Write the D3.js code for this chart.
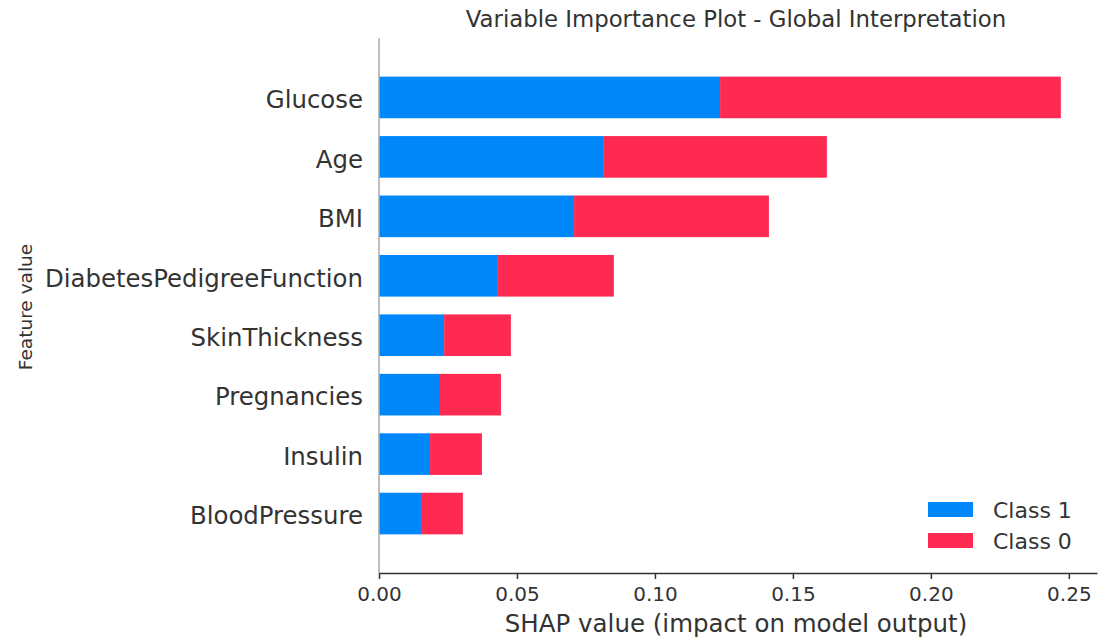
<!DOCTYPE html>
<html>
<head>
<meta charset="utf-8">
<script src="https://cdn.jsdelivr.net/npm/d3@7"></script>
<style>
  body { margin: 0; background: #fff; }
  text { font-family: "DejaVu Sans", sans-serif; fill: #333; }
  .x.axis path, .x.axis line { stroke: #333; }
  .x.axis text { font-size: 20px; fill: #333; }
</style>
</head>
<body>
<div id="chart"></div>
<script>
// features, top to bottom
var features = ["Glucose", "Age", "BMI", "DiabetesPedigreeFunction", "SkinThickness", "Pregnancies", "Insulin", "BloodPressure"];
// mean |SHAP| per class
var class1 = [0.1236, 0.0815, 0.0707, 0.0428, 0.0236, 0.0221, 0.0185, 0.0152];
var class0 = [0.1235, 0.0808, 0.0706, 0.0423, 0.0242, 0.0221, 0.0188, 0.0152];
var classNames = ["Class 1", "Class 0"];
var classColors = ["#0088fa", "#fe2a52"];
var xTicks = [0, 0.05, 0.10, 0.15, 0.20, 0.25];

var width = 1109, height = 638;
var margin = { top: 38, right: 12, bottom: 65, left: 379 };
var innerW = width - margin.left - margin.right,
    innerH = height - margin.top - margin.bottom;

var svg = d3.select("#chart").append("svg")
    .attr("width", width)
    .attr("height", height);

var g = svg.append("g")
    .attr("transform", "translate(" + margin.left + "," + margin.top + ")");

var xScale = d3.scaleLinear()
    .domain([0, 0.2602])
    .range([0, innerW]);

// shap style: y from -1 to n, first feature at top
var n = features.length;
var yScale = d3.scaleLinear()
    .domain([-1, n])
    .range([innerH, 0]);
var barH = yScale(0) - yScale(0.7);

var rows = features.map(function(f, i) {
    return { name: f, pos: n - 1 - i, c1: class1[i], c0: class0[i] };
});

// bars, class 1 first then class 0 stacked on top
g.selectAll(".bar1")
    .data(rows)
  .enter().append("rect")
    .attr("class", "bar1")
    .attr("x", xScale(0))
    .attr("y", function(d) { return yScale(d.pos) - barH / 2; })
    .attr("width", function(d) { return xScale(d.c1) - xScale(0); })
    .attr("height", barH)
    .attr("fill", classColors[0]);

g.selectAll(".bar0")
    .data(rows)
  .enter().append("rect")
    .attr("class", "bar0")
    .attr("x", function(d) { return xScale(d.c1); })
    .attr("y", function(d) { return yScale(d.pos) - barH / 2; })
    .attr("width", function(d) { return xScale(d.c1 + d.c0) - xScale(d.c1); })
    .attr("height", barH)
    .attr("fill", classColors[1]);

// feature labels
g.selectAll(".ylab")
    .data(rows)
  .enter().append("text")
    .attr("class", "ylab")
    .attr("x", -16)
    .attr("y", function(d) { return yScale(d.pos); })
    .attr("dy", "0.44em")
    .attr("text-anchor", "end")
    .style("font-size", "24.4px")
    .text(function(d) { return d.name; });

// left spine
g.append("line")
    .attr("x1", 0).attr("x2", 0)
    .attr("y1", 0).attr("y2", innerH)
    .attr("stroke", "#aaa")
    .attr("stroke-width", 1.5);

// x axis
var xAxis = d3.axisBottom(xScale)
    .tickValues(xTicks)
    .tickFormat(d3.format(".2f"))
    .tickSizeInner(6)
    .tickSizeOuter(0)
    .tickPadding(8);

g.append("g")
    .attr("class", "x axis")
    .attr("transform", "translate(0," + innerH + ")")
    .call(xAxis)
    .selectAll("path, line").attr("stroke-width", 1.5);

g.append("text")
    .attr("x", innerW / 2 - 2)
    .attr("y", innerH + 59)
    .attr("text-anchor", "middle")
    .style("font-size", "24.5px")
    .text("SHAP value (impact on model output)");

// y axis title
svg.append("text")
    .attr("transform", "translate(32,307) rotate(-90)")
    .attr("text-anchor", "middle")
    .style("font-size", "18.5px")
    .text("Feature value");

// title
svg.append("text")
    .attr("x", margin.left + innerW / 2 - 2)
    .attr("y", 27)
    .attr("text-anchor", "middle")
    .style("font-size", "22.8px")
    .text("Variable Importance Plot - Global Interpretation");

// legend
var legend = svg.append("g")
    .attr("transform", "translate(928,502)");

var items = legend.selectAll(".item")
    .data(classNames)
  .enter().append("g")
    .attr("class", "item")
    .attr("transform", function(d, i) { return "translate(0," + (i * 31) + ")"; });

items.append("rect")
    .attr("width", 45)
    .attr("height", 15)
    .attr("fill", function(d, i) { return classColors[i]; });

items.append("text")
    .attr("x", 65)
    .attr("y", 8)
    .attr("dy", "0.36em")
    .style("font-size", "22px")
    .text(function(d) { return d; });
</script>
</body>
</html>
